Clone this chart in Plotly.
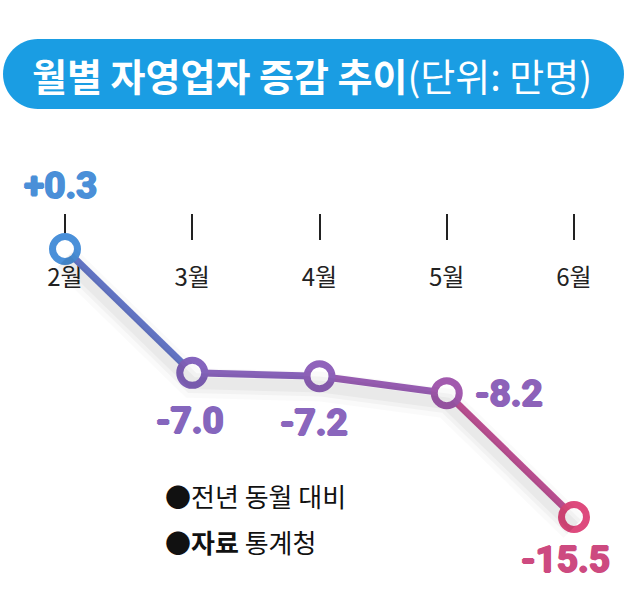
import plotly.graph_objects as go

# ---- data ----
months = ["2월", "3월", "4월", "5월", "6월"]
values = [0.3, -7.0, -7.2, -8.2, -15.5]
point_colors = ["#4a90d9", "#8565be", "#9063bb", "#a25aae", "#de4a7d"]
label_colors = ["#4a8fd8", "#8566bd", "#8a66bd", "#8d62b9", "#cd4a80"]
title_main = "월별 자영업자 증감 추이"
title_unit = "(단위: 만명)"
notes = ["●전년 동월 대비", "●<b>자료</b> 통계청"]

W, H = 640, 602
xs = list(range(len(months)))

def px(x):
    return x / W

def py(y):
    return 1 - y / H

def mix(c1, c2, t=0.5):
    a = [int(c1[i:i + 2], 16) for i in (1, 3, 5)]
    b = [int(c2[i:i + 2], 16) for i in (1, 3, 5)]
    return "#" + "".join(f"{round(a[i] + (b[i] - a[i]) * t):02x}" for i in range(3))

fig = go.Figure()

# soft shadow under the line (same data, drawn on a slightly shifted axis)
for w, a in [(30, 0.02), (20, 0.03), (12, 0.035)]:
    fig.add_trace(go.Scatter(x=xs, y=values, mode="lines", yaxis="y2",
                             line=dict(color=f"rgba(0,0,0,{a})", width=w),
                             hoverinfo="skip", showlegend=False))

# line segments (colour shifting blue -> pink)
for i in range(len(xs) - 1):
    fig.add_trace(go.Scatter(x=xs[i:i + 2], y=values[i:i + 2], mode="lines",
                             line=dict(color=mix(point_colors[i], point_colors[i + 1]), width=7),
                             hoverinfo="skip", showlegend=False))

# open circle markers
fig.add_trace(go.Scatter(x=xs, y=values, mode="markers",
                         marker=dict(size=25, color="white",
                                     line=dict(color=point_colors, width=7)),
                         showlegend=False))

# value labels
offsets = [(-5, 64), (-2, -48), (-6, -46), (62, 0), (-9, -42)]
for i, v in enumerate(values):
    txt = f"{v:+.1f}" if v > 0 else f"{v:.1f}"
    c = label_colors[i]
    fig.add_annotation(x=xs[i], y=v, text=txt, showarrow=False,
                       xshift=offsets[i][0], yshift=offsets[i][1],
                       yanchor="middle", xanchor="center",
                       font=dict(family="Roboto", size=37, weight="bold", color=c,
                                 shadow=f"1px 0 0 {c}, -1px 0 0 {c}, 0 1px 0 {c}, 0 -1px 0 {c}"))

# title bar
x0, x1, t, b, r = 3, 624, 39, 109, 35
cy = (t + b) / 2
k = 0.5523 * r
pts = [("M", [(x0 + r, t)]), ("L", [(x1 - r, t)]),
       ("C", [(x1 - r + k, t), (x1, cy - k), (x1, cy)]),
       ("C", [(x1, cy + k), (x1 - r + k, b), (x1 - r, b)]),
       ("L", [(x0 + r, b)]),
       ("C", [(x0 + r - k, b), (x0, cy + k), (x0, cy)]),
       ("C", [(x0, cy - k), (x0 + r - k, t), (x0 + r, t)])]
path = " ".join(cmd + " " + " ".join(f"{px(a):.5f},{py(c):.5f}" for a, c in p) for cmd, p in pts) + " Z"
fig.add_shape(type="path", path=path, xref="paper", yref="paper",
              fillcolor="#1a9de3", line=dict(width=0), layer="below")
fig.add_annotation(x=px(312), y=py(75), xref="paper", yref="paper", showarrow=False,
                   xanchor="center", yanchor="middle",
                   text=f"<b>{title_main}</b>{title_unit}",
                   font=dict(family="Noto Sans CJK KR", size=38, color="white"))

# notes
for j, n in enumerate(notes):
    fig.add_annotation(x=px(163), y=py(495 + j * 46), xref="paper", yref="paper",
                       xanchor="left", yanchor="middle", showarrow=False, text=n,
                       font=dict(family="Noto Sans CJK KR", size=26, color="#111"))

x_lo = -65 / 127.25
x_hi = 4 + (W - 574) / 127.25
y_hi = 0.3 + 249 / 16.96
y_lo = -15.5 - (H - 517) / 16.96
fig.update_layout(
    width=W, height=H, margin=dict(l=0, r=0, t=0, b=0),
    paper_bgcolor="white", plot_bgcolor="white", showlegend=False,
    xaxis=dict(range=[x_lo, x_hi], tickvals=xs, ticktext=months,
               anchor="free", position=py(240), showline=False,
               showgrid=False, zeroline=False, ticks="inside", ticklen=26,
               tickwidth=2, tickcolor="#222", ticklabelstandoff=21,
               tickfont=dict(family="Noto Sans CJK KR", size=24, color="#222"),
               layer="below traces", automargin=False, fixedrange=True),
    yaxis=dict(range=[y_lo, y_hi], visible=False, fixedrange=True),
    yaxis2=dict(range=[y_lo + 0.6, y_hi + 0.6], visible=False,
                overlaying="y", fixedrange=True),
)

fig.write_html("out.html")
